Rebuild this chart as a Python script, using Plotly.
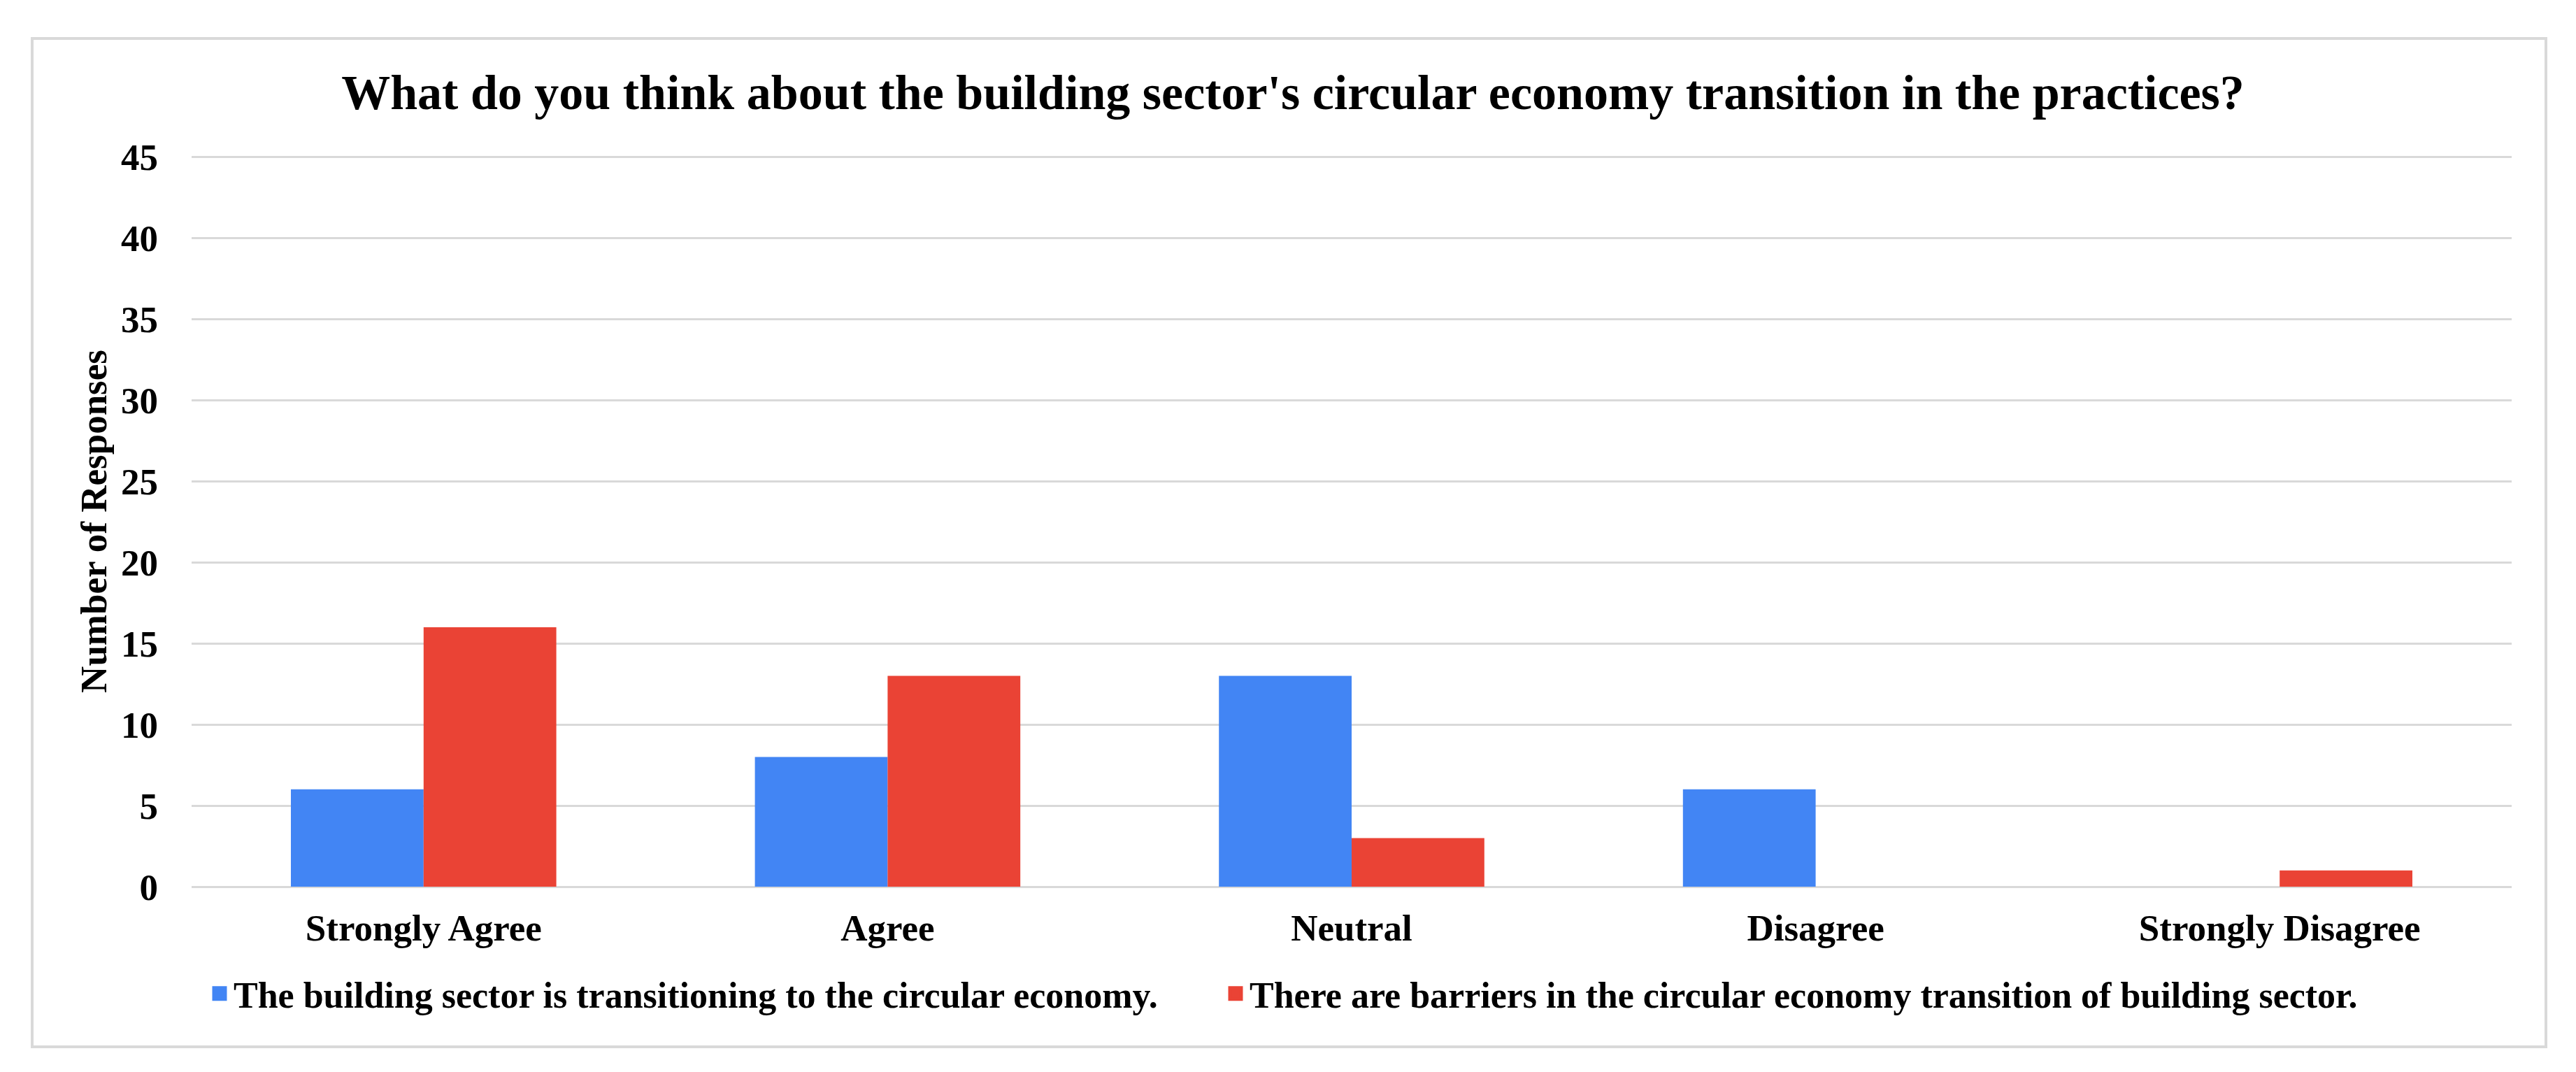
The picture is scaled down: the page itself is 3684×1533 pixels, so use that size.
import plotly.graph_objects as go

categories = ["Strongly Agree", "Agree", "Neutral", "Disagree", "Strongly Disagree"]
series_names = [
    "The building sector is transitioning to the circular economy.",
    "There are barriers in the circular economy transition of building sector.",
]
transitioning = [6, 8, 13, 6, 0]
barriers = [16, 13, 3, 0, 1]
y_ticks = [0, 5, 10, 15, 20, 25, 30, 35, 40, 45]
colors = ["#4285F4", "#EA4335"]

FONT = "Liberation Serif, Times New Roman, serif"
OFF = 8                      # default body margin of the html page
W, H = 3684 - 2 * OFF, 1533 - 2 * OFF
# plot area in screen pixels
PX0, PX1, PY0, PY1 = 274, 3592, 223, 1268
L, R, T, B = PX0 - OFF, (W + OFF) - PX1, PY0 - OFF, (H + OFF) - PY1
pw, ph = PX1 - PX0, PY1 - PY0

def px_x(p):
    return (p - PX0) / pw

def px_y(p):
    return (PY1 - p) / ph

legend_ids = ["legend", "legend2"]
legend_left = [304 - 10, 1757 - 10]

fig = go.Figure()
for name, vals, col in zip(series_names, [transitioning, barriers], colors):
    fig.add_trace(go.Bar(x=categories, y=vals, name=name, showlegend=False,
                         legendgroup=name,
                         marker=dict(color=col, line=dict(width=0))))
for name, col, lg in zip(series_names, colors, legend_ids):
    fig.add_trace(go.Scatter(x=[None], y=[None], mode="markers", name=name,
                             legendgroup=name, legend=lg,
                             marker=dict(symbol="square", size=16, color=col,
                                         line=dict(color=col, width=5))))

legend_style = dict(orientation="h", xanchor="left", y=px_y(1421), yanchor="middle",
                    font=dict(family=FONT, size=52, color="black", weight="bold"),
                    itemsizing="trace", bgcolor="rgba(0,0,0,0)")

fig.update_layout(
    width=W, height=H,
    margin=dict(l=L, r=R, t=T, b=B, autoexpand=False),
    paper_bgcolor="white", plot_bgcolor="white",
    barmode="group", bargap=0.428, bargroupgap=0,
    font=dict(family=FONT, color="black", size=53, weight="bold"),
    title=dict(
        text="What do you think about the building sector's circular economy transition in the practices?",
        x=(1849 - OFF) / W, xanchor="center",
        y=1 - (131 - OFF) / H, yanchor="middle",
        font=dict(family=FONT, size=70, color="black", weight="bold"),
    ),
    showlegend=True,
    legend=dict(x=px_x(legend_left[0]), **legend_style),
    legend2=dict(x=px_x(legend_left[1]), **legend_style),
    xaxis=dict(showgrid=False, showline=False, ticks="",
               tickfont=dict(family=FONT, size=53, color="black", weight="bold"),
               ticklabelstandoff=23),
    yaxis=dict(range=[0, 45.06], tickvals=y_ticks, showgrid=True,
               gridcolor="#d9d9d9", gridwidth=3, zeroline=True,
               zerolinecolor="#d9d9d9", zerolinewidth=3, showline=False, ticks="",
               tickfont=dict(family=FONT, size=53, color="black", weight="bold"),
               ticklabelstandoff=47,
               title=dict(text="Number of Responses", standoff=3,
                          font=dict(family=FONT, size=53, color="black", weight="bold"))),
    shapes=[dict(type="rect", xref="paper", yref="paper",
                 x0=px_x(46), x1=px_x(3641), y0=px_y(1497), y1=px_y(55),
                 line=dict(color="#d9d9d9", width=4), fillcolor="rgba(0,0,0,0)",
                 layer="below")],
)

fig.write_html("out.html")
